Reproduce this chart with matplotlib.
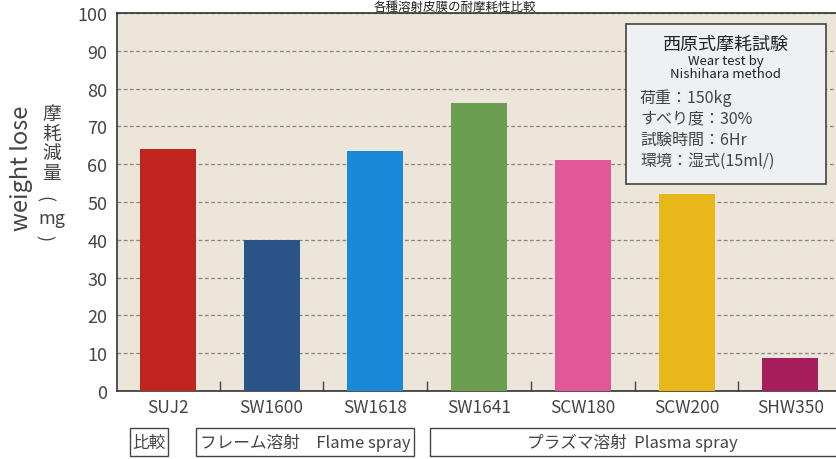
import matplotlib
matplotlib.use('Agg')
import matplotlib.pyplot as plt
from matplotlib.patches import Rectangle
import numpy as np

plt.rcParams['font.family'] = ['Noto Sans CJK JP', 'DejaVu Sans']

# data
categories = ['SUJ2', 'SW1600', 'SW1618', 'SW1641', 'SCW180', 'SCW200', 'SHW350']
weight_loss = [64.0, 40.0, 63.5, 76.2, 61.0, 52.0, 8.8]
bar_colors = ['#c0241f', '#2a5488', '#1a8ad8', '#6c9e51', '#e0579a', '#e8b81a', '#a61e5c']
groups = ['比較', 'フレーム溶射　Flame spray', 'プラズマ溶射  Plasma spray']
y_ticks = list(range(0, 101, 10))
conditions = ['荷重：150kg', 'すべり度：30%', '試験時間：6Hr', '環境：湿式(15ml/)']

W, H = 837, 460
fig = plt.figure(figsize=(W / 100, H / 100), dpi=100)
fig.patch.set_facecolor('white')

# axes placed in pixel terms of the reference
ax = fig.add_axes([117 / W, (H - 392) / H, (W - 117) / W, 378 / H])
ax.set_facecolor('#ebe5da')

x = np.arange(len(categories))
ax.bar(x, weight_loss, width=0.54, color=bar_colors, zorder=3)

ax.set_xlim(-0.49, 6.45)
ax.set_ylim(0, 100)
ax.set_yticks(y_ticks)
ax.yaxis.grid(True, linestyle=(0, (3, 2)), color='#8a8580', linewidth=0.9, zorder=1)
ax.tick_params(axis='y', length=0, pad=7, labelsize=13, labelcolor='#444444')
ax.set_xticks(x)
ax.set_xticklabels(categories, fontsize=12.5, color='#444444')
ax.tick_params(axis='x', which='major', length=0, pad=5)
ax.set_xticks(x[:-1] + 0.5, minor=True)
ax.tick_params(axis='x', which='minor', length=7, width=1, direction='in',
               color='#444444')
for s in ['left', 'bottom', 'top']:
    ax.spines[s].set_color('#333333')
    ax.spines[s].set_linewidth(1.2)
ax.spines['right'].set_visible(False)

# y labels
fig.text(22 / W, 1 - 168 / H, 'weight lose', rotation=90, ha='center', va='center',
         fontsize=17, color='#444444')
fig.text(52 / W, 1 - 104 / H, '摩\n耗\n減\n量', ha='center', va='top',
         fontsize=13.5, color='#444444', linespacing=0.92)
fig.text(44 / W, 1 - 199 / H, '(', rotation=-90, ha='center', va='center',
         fontsize=13, color='#444444')
fig.text(52 / W, 1 - 219 / H, 'mg', ha='center', va='center',
         fontsize=13, color='#444444')
fig.text(44 / W, 1 - 238 / H, ')', rotation=-90, ha='center', va='center',
         fontsize=13, color='#444444')

# title, mostly hidden above the frame in the reference
fig.text(455 / W, 1 - 1 / H, '各種溶射皮膜の耐摩耗性比較', ha='center', va='top',
         fontsize=9, color='#222222')

# test condition box
box = Rectangle((626 / W, 1 - 185 / H), 200 / W, 160 / H, transform=fig.transFigure,
                facecolor='#eef0f2', edgecolor='#444444', linewidth=1.2, zorder=5)
fig.add_artist(box)
fig.text(726 / W, 1 - 45 / H, '西原式摩耗試験', ha='center', va='center', fontsize=13,
         color='#222222', zorder=6)
fig.text(726 / W, 1 - 68 / H, 'Wear test by\nNishihara method', ha='center', va='center',
         fontsize=9.5, color='#222222', linespacing=0.9, zorder=6)
for i, c in enumerate(conditions):
    fig.text(640 / W, 1 - (98 + i * 21) / H, c, ha='left', va='center', fontsize=11.5,
             color='#444444', zorder=6)

# group boxes under the categories
group_spans = [(130, 168), (196, 414), (430, 845)]
label_x = [149, 305, 632]
for (x0, x1), lx, g in zip(group_spans, label_x, groups):
    fig.add_artist(Rectangle((x0 / W, 1 - 457 / H), (x1 - x0) / W, 28 / H,
                             transform=fig.transFigure, facecolor='none',
                             edgecolor='#444444', linewidth=1.0))
    fig.text(lx / W, 1 - 443 / H, g, ha='center', va='center', fontsize=12,
             color='#444444')

fig.savefig('out.png', dpi=100)
